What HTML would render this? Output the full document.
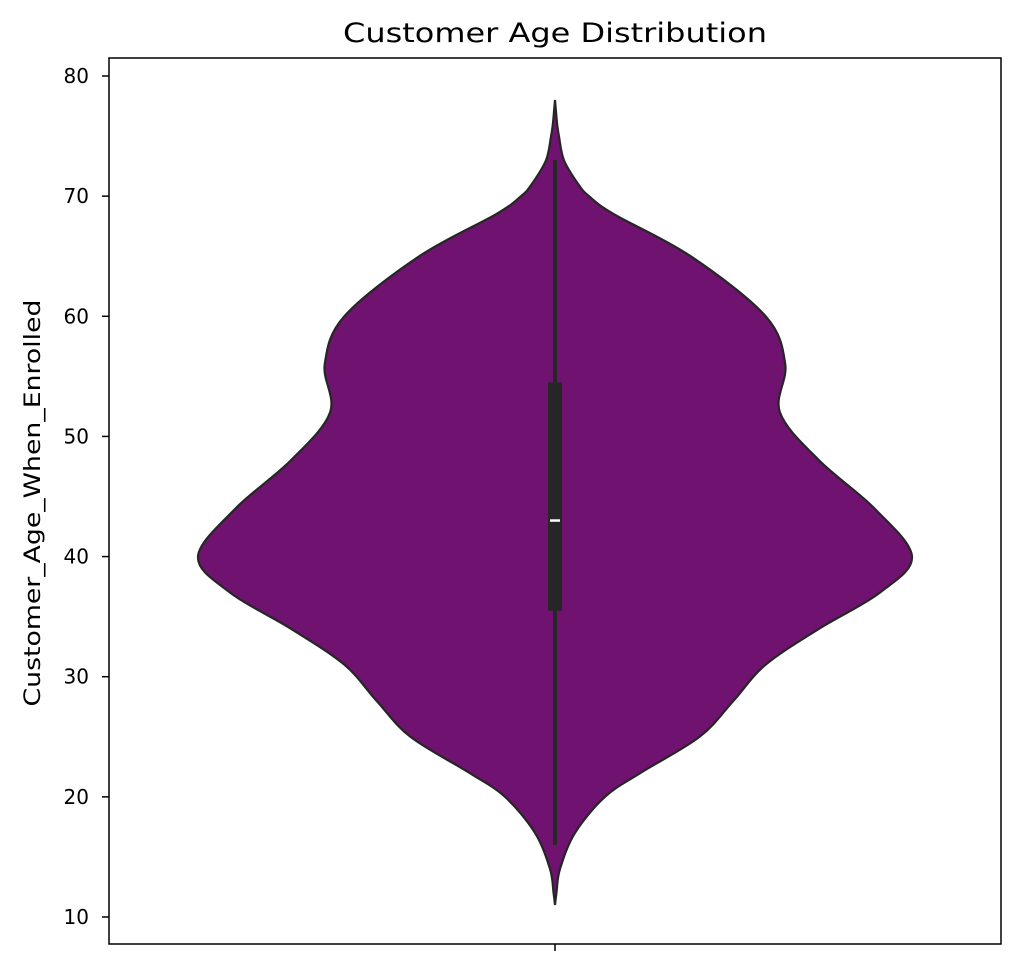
<!DOCTYPE html>
<html><head><meta charset="utf-8"><style>
body{margin:0;background:#fff;font-family:"DejaVu Sans","Liberation Sans",sans-serif;}
</style></head><body>
<svg width="1020" height="974" xmlns="http://www.w3.org/2000/svg">
<g id="plot"></g>
</svg>
<script>
const ages=[78,76,75,73,71,70,68.5,65,60,56,52,48,44,40,37,34,31,28,25,22,20,17,14,12,11];
const density=[0,0.006,0.011,0.025,0.065,0.095,0.165,0.38,0.59,0.645,0.63,0.74,0.895,1.0,0.91,0.74,0.59,0.5,0.405,0.24,0.14,0.056,0.014,0.004,0];
const yTicks=[10,20,30,40,50,60,70,80];
const q1=35.5,q3=54.5,median=43,whiskerLo=16,whiskerHi=73;
const title="Customer Age Distribution", yTitle="Customer_Age_When_Enrolled";

const L=109,R=1001,T=58,B=944,cx=555,maxHalf=357;
const y=v=>917-(v-10)*(917-76)/70;
const w=d=>d*maxHalf;
const NS="http://www.w3.org/2000/svg";
const g=document.getElementById('plot');
function el(tag,attrs,parent){const e=document.createElementNS(NS,tag);for(const k in attrs)e.setAttribute(k,attrs[k]);(parent||g).appendChild(e);return e;}
function smooth(pts){let d=`M${pts[0][0]},${pts[0][1]}`;for(let i=0;i<pts.length-1;i++){const p0=pts[i-1]||pts[i],p1=pts[i],p2=pts[i+1],p3=pts[i+2]||p2;const c1=[p1[0]+(p2[0]-p0[0])/6,p1[1]+(p2[1]-p0[1])/6],c2=[p2[0]-(p3[0]-p1[0])/6,p2[1]-(p3[1]-p1[1])/6];d+=` C${c1[0]},${c1[1]} ${c2[0]},${c2[1]} ${p2[0]},${p2[1]}`;}return d;}
const right=ages.map((a,i)=>[cx+w(density[i]),y(a)]);
const left=ages.map((a,i)=>[cx-w(density[i]),y(a)]).reverse();
const dR=smooth(right),dL=smooth(left);
const violin=el('path',{d:dR+' L'+dL.slice(1)+' Z',fill:'#701370',stroke:'#262626','stroke-width':2.2});


const wh=el('line',{x1:cx,x2:cx,y1:y(whiskerLo),y2:y(whiskerHi),stroke:'#262626','stroke-width':4});


const box=el('rect',{x:cx-7,y:y(q3),width:14,height:y(q1)-y(q3),fill:'#262626'});


const med=el('line',{x1:cx-5,x2:cx+5,y1:y(median),y2:y(median),stroke:'#fff','stroke-width':2.5});


const frame=el('rect',{x:L,y:T,width:R-L,height:B-T,fill:'none',stroke:'#000','stroke-width':1.5});


yTicks.forEach(t=>{
  const tk=el('line',{x1:L-7,x2:L,y1:y(t),y2:y(t),stroke:'#000','stroke-width':1.5});
  
  
  const tx=el('text',{x:L-20,y:y(t)+7,'text-anchor':'end','font-size':20,fill:'#000'});
  tx.textContent=t;
  
  
});
const xt=el('line',{x1:cx,x2:cx,y1:B,y2:B+7,stroke:'#000','stroke-width':1.5});


const ti=el('text',{x:cx,y:42,'text-anchor':'middle','font-size':27,fill:'#000',textLength:424,lengthAdjust:'spacingAndGlyphs'});
ti.textContent=title;


const yl=el('text',{x:0,y:0,'text-anchor':'middle','font-size':22,fill:'#000',textLength:407,lengthAdjust:'spacingAndGlyphs',transform:`translate(40,503) rotate(-90)`});
yl.textContent=yTitle;


</script>
</body></html>
